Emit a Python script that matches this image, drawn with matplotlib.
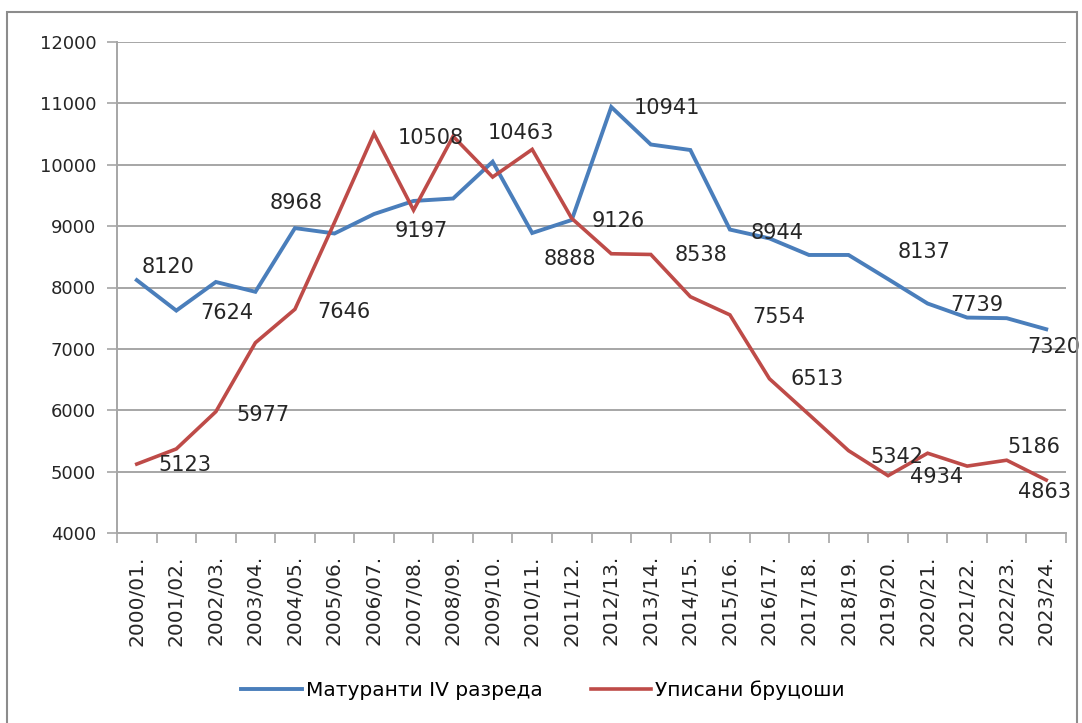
import matplotlib
matplotlib.use("Agg")
import matplotlib.pyplot as plt
from matplotlib.patches import Rectangle

# ── data ────────────────────────────────────────────────────────────────────
years = ["2000/01.", "2001/02.", "2002/03.", "2003/04.", "2004/05.", "2005/06.",
         "2006/07.", "2007/08.", "2008/09.", "2009/10.", "2010/11.", "2011/12.",
         "2012/13.", "2013/14.", "2014/15.", "2015/16.", "2016/17.", "2017/18.",
         "2018/19.", "2019/20.", "2020/21.", "2021/22.", "2022/23.", "2023/24."]

maturanti = [8120, 7624, 8090, 7930, 8968, 8880, 9197, 9410, 9450, 10050, 8888, 9100,
             10941, 10330, 10240, 8944, 8800, 8530, 8530, 8137, 7739, 7510, 7500, 7320]

brucosi = [5123, 5370, 5977, 7100, 7646, 9060, 10508, 9260, 10463, 9800, 10250, 9126,
           8550, 8538, 7850, 7554, 6513, 5930, 5342, 4934, 5300, 5090, 5186, 4863]

series_names = ["Матуранти IV разреда", "Уписани бруцоши"]

# which points carry a value label -> pixel offset (dx, dy) of the label's left edge
blue_lbl = {0: (5, 13), 1: (24, -2), 4: (-25, 25), 6: (21, -17), 10: (11, -26),
            12: (22, -1), 15: (21, -3), 19: (10, 27), 20: (23, -1), 23: (-19, -18)}
red_lbl = {0: (22, -1), 2: (21, -3), 4: (22, -3), 6: (24, -4), 8: (35, 3),
           11: (20, -3), 13: (24, -1), 15: (22, -2), 16: (21, 0), 18: (22, -6),
           19: (22, -1), 22: (1, 13), 23: (-28, -12)}

BLUE, RED = "#4a7ebb", "#be4b48"
GRID = "#a6a6a6"
TXT = "#262626"

fig = plt.figure(figsize=(10.82, 7.23), dpi=100)
ax = fig.add_axes([117 / 1082, 1 - 533 / 723, (1066 - 117) / 1082, (533 - 42) / 723])

x = list(range(len(years)))
ax.plot(x, maturanti, color=BLUE, lw=2.8, solid_joinstyle="miter", zorder=3,
        label=series_names[0])
ax.plot(x, brucosi, color=RED, lw=2.6, solid_joinstyle="miter", zorder=3,
        label=series_names[1])

for vals, lbls in ((maturanti, blue_lbl), (brucosi, red_lbl)):
    for i, (dx, dy) in lbls.items():
        ax.annotate(str(vals[i]), xy=(i, vals[i]), xytext=(dx, dy),
                    textcoords="offset pixels", ha="left", va="center",
                    fontsize=15, color=TXT, zorder=5)

ax.set_xlim(-0.5, len(years) - 0.5)
ax.set_ylim(4000, 12000)
ax.set_yticks(range(4000, 12001, 1000))
ax.tick_params(axis="y", labelsize=13, colors=TXT, length=7, width=1.2,
               color=GRID, pad=8)

ax.set_xticks(x)
ax.set_xticklabels(years, rotation=90, fontsize=14.5, color=TXT)
ax.set_xticks([i - 0.5 for i in range(len(years) + 1)], minor=True)
ax.tick_params(axis="x", which="major", length=0, pad=16)
ax.tick_params(axis="x", which="minor", length=7, width=1.2, color=GRID)

ax.grid(axis="y", color=GRID, lw=1.4, zorder=0)
ax.set_axisbelow(True)
for s in ("top", "right"):
    ax.spines[s].set_visible(False)
for s in ("left", "bottom"):
    ax.spines[s].set_color(GRID)
    ax.spines[s].set_linewidth(1.4)

fig.legend(loc="center", bbox_to_anchor=(0.502, 0.046), ncol=2, frameon=False,
           handlelength=3.0, handletextpad=0.2, columnspacing=2.4,
           prop={"family": "DejaVu Sans", "size": 14.5})

# chart-area frame
fig.patches.append(Rectangle((7 / 1082, -0.01), (1077 - 7) / 1082, 1 - 12 / 723 + 0.01,
                             transform=fig.transFigure, fill=False,
                             edgecolor="#8c8c8c", lw=1.5))

fig.savefig("out.png", dpi=100)
